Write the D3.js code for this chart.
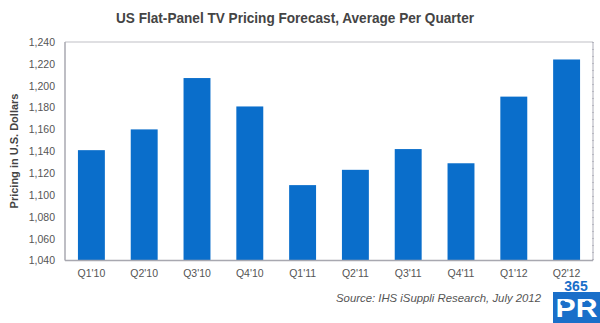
<!DOCTYPE html>
<html>
<head>
<meta charset="utf-8">
<script src="https://cdn.jsdelivr.net/npm/d3@7"></script>
<style>
  html, body { margin: 0; padding: 0; background: #fff; }
  svg { display: block; font-family: "Liberation Sans", Arial, sans-serif; }
</style>
</head>
<body>
<svg id="chart" width="600" height="323"></svg>
<script>
// Quarterly average price of flat-panel TVs in the US
const quarters = ["Q1'10", "Q2'10", "Q3'10", "Q4'10", "Q1'11", "Q2'11", "Q3'11", "Q4'11", "Q1'12", "Q2'12"];
const prices = [1141, 1160, 1207, 1181, 1109, 1123, 1142, 1129, 1190, 1224];
const yTicks = [1040, 1060, 1080, 1100, 1120, 1140, 1160, 1180, 1200, 1220, 1240];

const svg = d3.select("#chart");
const plot = { left: 65, right: 593, top: 42, bottom: 260.5 };

const x = d3.scaleBand().domain(quarters).range([plot.left, plot.right]).paddingInner(0.49).paddingOuter(0.245);
const y = d3.scaleLinear().domain([1040, 1240]).range([plot.bottom, plot.top]);

// title
svg.append("text")
  .attr("x", 295).attr("y", 23)
  .attr("text-anchor", "middle")
  .attr("font-size", 14).attr("font-weight", "bold")
  .attr("fill", "#444")
  .attr("textLength", 358).attr("lengthAdjust", "spacingAndGlyphs")
  .text("US Flat-Panel TV Pricing Forecast, Average Per Quarter");

// plot frame: light top/right edges with small dotted ticks
svg.append("line").attr("x1", plot.left).attr("x2", plot.right).attr("y1", plot.top).attr("y2", plot.top)
  .attr("stroke", "#d4d4d8").attr("stroke-width", 1.5);
svg.append("line").attr("x1", plot.right).attr("x2", plot.right).attr("y1", plot.top).attr("y2", plot.bottom)
  .attr("stroke", "#c8c8d0").attr("stroke-width", 1.5);
svg.append("line").attr("x1", plot.right).attr("x2", plot.right).attr("y1", plot.top).attr("y2", plot.bottom)
  .attr("stroke", "#9a9aa6").attr("stroke-width", 1).attr("stroke-dasharray", "1,6");

// bars
svg.append("g").selectAll("rect")
  .data(quarters.map((q, i) => ({ q, v: prices[i] })))
  .join("rect")
  .attr("x", d => x(d.q))
  .attr("width", x.bandwidth())
  .attr("y", d => y(d.v))
  .attr("height", d => y(1040) - y(d.v))
  .attr("fill", "#0a6ecb");

// left and bottom axis lines
svg.append("line").attr("x1", plot.left).attr("x2", plot.left).attr("y1", plot.top).attr("y2", plot.bottom)
  .attr("stroke", "#a8a8b0").attr("stroke-width", 1.5);
svg.append("line").attr("x1", plot.left).attr("x2", plot.right).attr("y1", plot.bottom).attr("y2", plot.bottom)
  .attr("stroke", "#a8a8b0").attr("stroke-width", 1.5);

// y axis labels
const yAxis = d3.axisLeft(y).tickValues(yTicks).tickSize(0).tickPadding(10).tickFormat(d3.format(",d"));
const gy = svg.append("g").attr("transform", `translate(${plot.left},0)`).call(yAxis);
gy.select(".domain").remove();
gy.selectAll("text").attr("font-size", 10.5).attr("fill", "#555").attr("font-family", "Liberation Sans, Arial, sans-serif");

// x axis labels
const xAxis = d3.axisBottom(x).tickSize(0).tickPadding(9);
const gx = svg.append("g").attr("transform", `translate(0,${plot.bottom})`).call(xAxis);
gx.select(".domain").remove();
gx.selectAll("text").attr("font-size", 10.5).attr("fill", "#555").attr("font-family", "Liberation Sans, Arial, sans-serif");

// y axis title
svg.append("text")
  .attr("transform", "translate(18,151) rotate(-90)")
  .attr("text-anchor", "middle")
  .attr("font-size", 11).attr("font-weight", "bold")
  .attr("fill", "#444")
  .text("Pricing in U.S. Dollars");

// source note
svg.append("text")
  .attr("x", 541).attr("y", 302)
  .attr("text-anchor", "end")
  .attr("font-size", 10.5).attr("font-style", "italic")
  .attr("fill", "#555")
  .attr("textLength", 205).attr("lengthAdjust", "spacingAndGlyphs")
  .text("Source: IHS iSuppli Research, July 2012");

// 365PR badge
const logo = svg.append("g");
logo.append("rect").attr("x", 553).attr("y", 292).attr("width", 47).attr("height", 31).attr("fill", "#1a6fc9");
logo.append("text").attr("x", 576).attr("y", 291).attr("text-anchor", "middle")
  .attr("font-size", 14).attr("font-weight", "bold").attr("fill", "#1a6fc9").text("365");
logo.append("text").attr("x", 576.5).attr("y", 317).attr("text-anchor", "middle")
  .attr("font-size", 25).attr("font-weight", "bold").attr("fill", "#fff")
  .attr("textLength", 42).attr("lengthAdjust", "spacingAndGlyphs").text("PR");
logo.append("circle").attr("cx", 563).attr("cy", 303).attr("r", 2.6).attr("fill", "#1a6fc9");
logo.append("circle").attr("cx", 587).attr("cy", 303).attr("r", 2.6).attr("fill", "#1a6fc9");
</script>
</body>
</html>
